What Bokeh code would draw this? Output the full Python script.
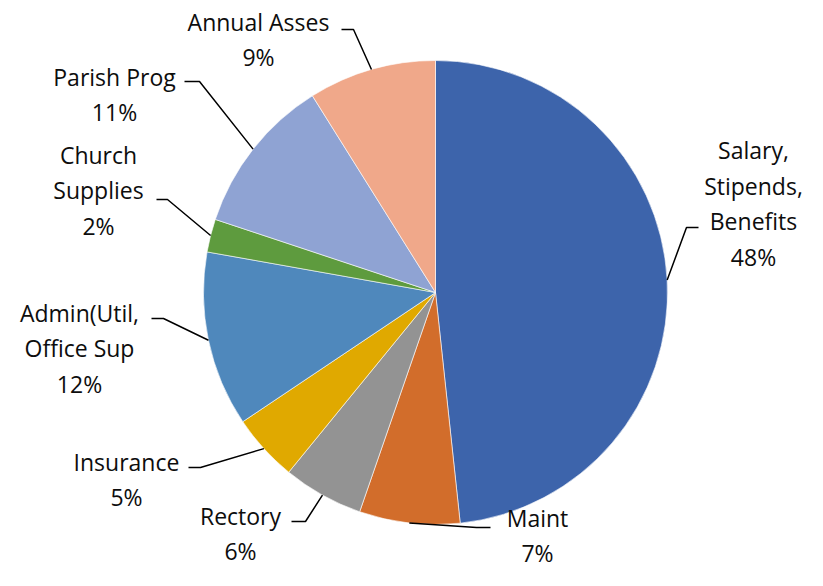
import math
from bokeh.plotting import figure
from bokeh.models import Range1d, ColumnDataSource
from bokeh.embed import file_html
from bokeh.resources import INLINE
from bokeh.core.properties import value

# ---- data ----
categories = ["Salary,\nStipends,\nBenefits", "Maint", "Rectory", "Insurance",
              "Admin(Util,\nOffice Sup", "Church\nSupplies", "Parish Prog", "Annual Asses"]
shares = [48.3, 7.0, 5.6, 4.7, 12.2, 2.3, 11.0, 8.9]
colors = ["#3D64AB", "#D26D2B", "#939393", "#E0A900",
          "#4F88BC", "#5E9B3E", "#8FA3D3", "#F0A88A"]

# ---- layout (picture pixel coordinates) ----
W, H = 807, 570
CX, CY, R = 435, 292, 232
label_center = [(753, 203), (537, 535), (240, 533), (126, 479),
                (79, 348), (98, 190), (114, 94), (258, 39)]
label_elbow = [(686, 227), (476, 527), (305, 521), (200, 467),
               (163, 318), (167, 199), (199, 81), (353, 29)]
label_end = [(698, 227), (490, 527), (291, 521), (188, 467),
             (151, 318), (156, 199), (184, 81), (341, 29)]


def py(y):
    # picture y (down) -> data y (up)
    return 586 - y


p = figure(width=W, height=H, output_backend="svg", toolbar_location=None,
           x_range=Range1d(0, W), y_range=Range1d(586 - H, 586),
           min_border=0, outline_line_color=None)
p.axis.visible = False
p.grid.visible = False

total = sum(shares)
starts, ends, mids = [], [], []
cum = 0.0
for s in shares:
    a0 = cum / total
    cum += s
    a1 = cum / total
    starts.append(math.pi / 2 - a1 * 2 * math.pi)
    ends.append(math.pi / 2 - a0 * 2 * math.pi)
    mids.append((a0 + a1) / 2)

src = ColumnDataSource(dict(start=starts, end=ends, color=colors))
p.wedge(x=CX, y=py(CY), radius=R, radius_units="data",
        start_angle="start", end_angle="end", direction="anticlock",
        fill_color="color", line_color="white", line_width=0.6, source=src)

# leader lines
xs, ys = [], []
for m, e, t in zip(mids, label_elbow, label_end):
    ang = m * 2 * math.pi
    sx = CX + R * math.sin(ang)
    sy = CY - R * math.cos(ang)
    xs.append([sx, e[0], t[0]])
    ys.append([py(sy), py(e[1]), py(t[1])])
p.multi_line(xs=xs, ys=ys, line_color="black", line_width=1.5)

texts = [f"{c}\n{round(s / total * 100)}%" for c, s in zip(categories, shares)]
lsrc = ColumnDataSource(dict(x=[c[0] for c in label_center],
                             y=[py(c[1]) for c in label_center], text=texts))
p.text(x="x", y="y", text="text", source=lsrc, text_align="center",
       text_baseline="middle", text_font=value("Open Sans"),
       text_font_size="23px", text_color="#0D0D0D", text_line_height=1.12)

open("out.html", "w").write(file_html(p, INLINE))
